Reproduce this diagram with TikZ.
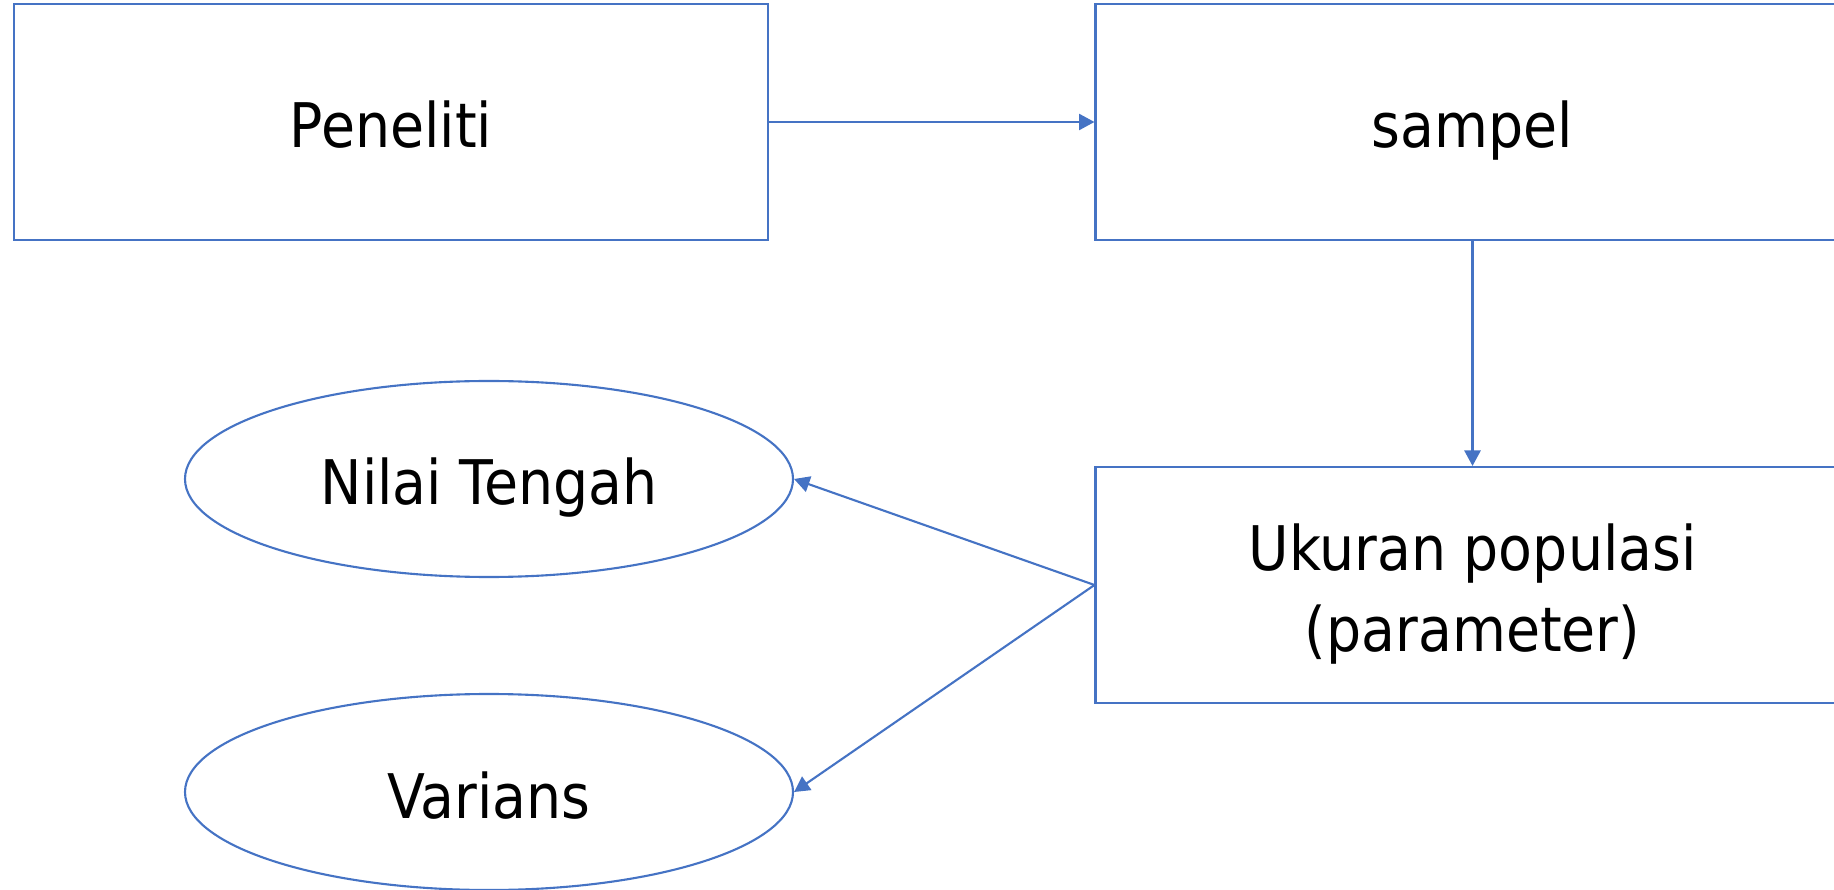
\documentclass[tikz,border=0pt]{standalone}
\usepackage{fontspec}
\setmainfont{DejaVu Sans}[FakeStretch=0.9]
\usetikzlibrary{shapes.geometric,arrows.meta}
\definecolor{garis}{rgb}{.27,.45,.77}

\begin{document}
\begin{tikzpicture}[
	kotak/.style = {draw=garis, line width=.6pt, minimum width=7.54cm, minimum height=2.36cm, inner sep=0pt, align=center},
	elips/.style = {draw=garis, line width=.6pt, ellipse, minimum width=6.08cm, minimum height=1.96cm, inner sep=0pt},
	panah/.style = {draw=garis, line width=.6pt, -{Triangle[length=4.4pt, width=4.6pt]}},
	font = \fontsize{17.5}{22.8}\selectfont,
	text height = .52cm, text depth = 0cm]

	\useasboundingbox (0,0) rectangle (18.34,8.89);

	\node[kotak] (peneliti) at (3.91, 7.67) {Peneliti};
	\node[kotak] (sampel) at (14.725, 7.67) {sampel};
	\node[kotak, text height=1.46cm, text depth=.14cm] (ukuran) at (14.725, 3.04) {Ukuran populasi\\(parameter)};

	\node[elips] (nilai) at (4.89, 4.10) {Nilai Tengah};
	\node[elips] (varians) at (4.89, .97) {Varians};

	\draw[panah] (peneliti.east) -- (sampel.west);
	\draw[panah] (sampel.south) -- (ukuran.north);
	\draw[panah] (ukuran.west) -- (nilai.east);
	\draw[panah] (ukuran.west) -- (varians.east);
\end{tikzpicture}
\end{document}
